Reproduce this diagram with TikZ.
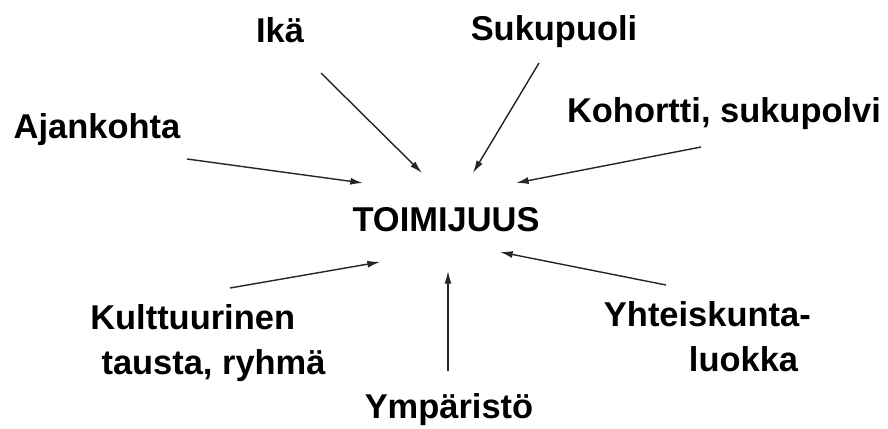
\documentclass[tikz,border=0pt]{standalone}
\usepackage{fontspec}
\setmainfont{Liberation Sans}
\usetikzlibrary{arrows.meta}

\begin{document}
\begin{tikzpicture}[x=0.025cm, y=-0.025cm,
    factortext/.style={font=\fontsize{24.5}{32}\selectfont\bfseries, inner sep=0pt},
    pointer/.style={-{Latex[length=9pt,width=5pt]}, line width=1pt, black!85}]

    % Frame is the 888 x 428 px picture, y runs downward
    \useasboundingbox (0,0) rectangle (888,428);

    % === Centre ===
    \node[factortext, anchor=base] (toimijuus) at (446,231) {TOIMIJUUS};

    % === Factors round it (two-line ones sit on their last line) ===
    \node[factortext, anchor=base] (ika) at (280,42) {Ikä};
    \node[factortext, anchor=base] (sukupuoli) at (554,40) {Sukupuoli};
    \node[factortext, anchor=base] (ajankohta) at (97,138) {Ajankohta};
    \node[factortext, anchor=base] (kohortti) at (724,122) {Kohortti, sukupolvi};
    \node[factortext, anchor=base west, align=left] (kulttuuri) at (90,374) {Kulttuurinen\\\hspace*{8pt}tausta, ryhmä};
    \node[factortext, anchor=base east, align=right] (luokka) at (811,371) {Yhteiskunta-\\luokka\hspace*{9pt}};
    \node[factortext, anchor=base] (ymparisto) at (449,418) {Ympäristö};

    % === Arrow ends ===
    \coordinate (ajankohta-a) at (187,159);
    \coordinate (ajankohta-b) at (363,183);
    \coordinate (ika-a) at (321,73);
    \coordinate (ika-b) at (422,173);
    \coordinate (sukupuoli-a) at (539,63);
    \coordinate (sukupuoli-b) at (473,173);
    \coordinate (kohortti-a) at (701,147);
    \coordinate (kohortti-b) at (516,183);
    \coordinate (kulttuuri-a) at (230,288);
    \coordinate (kulttuuri-b) at (380,262);
    \coordinate (ymparisto-a) at (448,371);
    \coordinate (ymparisto-b) at (448,271);
    \coordinate (luokka-a) at (666,285);
    \coordinate (luokka-b) at (500,252);

    \foreach \f in {ajankohta, ika, sukupuoli, kohortti, kulttuuri, ymparisto, luokka}
        \draw[pointer] (\f-a) -- (\f-b);

\end{tikzpicture}
\end{document}
